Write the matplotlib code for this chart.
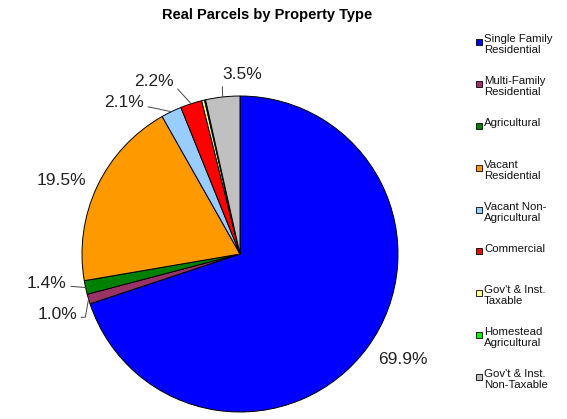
import numpy as np
import matplotlib
matplotlib.use("Agg")
import matplotlib.pyplot as plt
from matplotlib.patches import Rectangle

plt.rcParams['font.family'] = ['Liberation Sans', 'DejaVu Sans']

# data
categories = ["Single Family\nResidential", "Multi-Family\nResidential", "Agricultural",
              "Vacant\nResidential", "Vacant Non-\nAgricultural", "Commercial",
              "Gov't & Inst.\nTaxable", "Homestead\nAgricultural", "Gov't & Inst.\nNon-Taxable"]
shares = [69.9, 1.0, 1.4, 19.5, 2.1, 2.2, 0.3, 0.1, 3.5]
colors = ["#0000FF", "#993366", "#008000", "#FF9900", "#99CCFF",
          "#FF0000", "#FFFF99", "#00FF00", "#C0C0C0"]

# label placement (data units, pie radius = 1), None = no label; flag = leader line
label_pos = [(1.032, -0.665), (-1.158, -0.386), (-1.222, -0.184), (-1.133, 0.468),
             (-0.734, 0.956), (-0.544, 1.089), None, None, (0.013, 1.133)]
leader = [False, True, True, False, True, True, False, False, True]

W, H = 567, 419
fig = plt.figure(figsize=(W / 100, H / 100), dpi=100)

# pie centre (240, 254) px, radius 158 px
cx, cy, r = 240, 254, 158
ax = fig.add_axes([0, 0, 460 / W, 389 / H])
wedges, _ = ax.pie(shares, colors=colors, startangle=90, counterclock=False,
                   wedgeprops=dict(edgecolor='black', linewidth=0.7))
ax.set_xlim((0 - cx) / r, (460 - cx) / r)
ax.set_ylim((cy - 419) / r, (cy - 30) / r)
ax.set_aspect('auto')
ax.axis('off')

for w, v, pos, lead in zip(wedges, shares, label_pos, leader):
    if pos is None:
        continue
    txt = f"{v:.1f}%"
    if not lead:
        ax.text(pos[0], pos[1], txt, ha='center', va='center', fontsize=12.5, color='#222222')
        continue
    mid = np.deg2rad((w.theta1 + w.theta2) / 2)
    xy = (np.cos(mid), np.sin(mid))
    if pos[0] > xy[0]:
        rel = (0.0, 0.0)
        cs = "arc3"
    elif pos[1] < xy[1]:
        rel = (1.0, 0.35)
        cs = "angle,angleA=0,angleB=80,rad=0"
    else:
        rel = (1.0, 0.3)
        cs = "arc3"
    ax.annotate(txt, xy=xy, xytext=pos, ha='center', va='center', fontsize=12.5,
                color='#222222',
                arrowprops=dict(arrowstyle='-', color='#444444', lw=0.7,
                                shrinkA=1, shrinkB=0, relpos=rel, connectionstyle=cs))

fig.text(267.5 / W, 1 - 15 / H, "Real Parcels by Property Type", ha='center', va='center',
         fontsize=10.5, fontweight='bold')

# legend drawn by hand so markers line up with the first text line
y0, dy = 40, 41.9
for i, (lab, col) in enumerate(zip(categories, colors)):
    yc = y0 + i * dy
    fig.patches.append(Rectangle((476 / W, 1 - (yc + 5) / H), 6 / W, 6 / H,
                                 transform=fig.transFigure, facecolor=col,
                                 edgecolor='black', linewidth=0.6))
    fig.text(484 / W, 1 - (yc - 6) / H, lab, ha='left', va='top', fontsize=8.2,
             linespacing=1.12, color='#111111')

fig.savefig("out.png", dpi=100)
